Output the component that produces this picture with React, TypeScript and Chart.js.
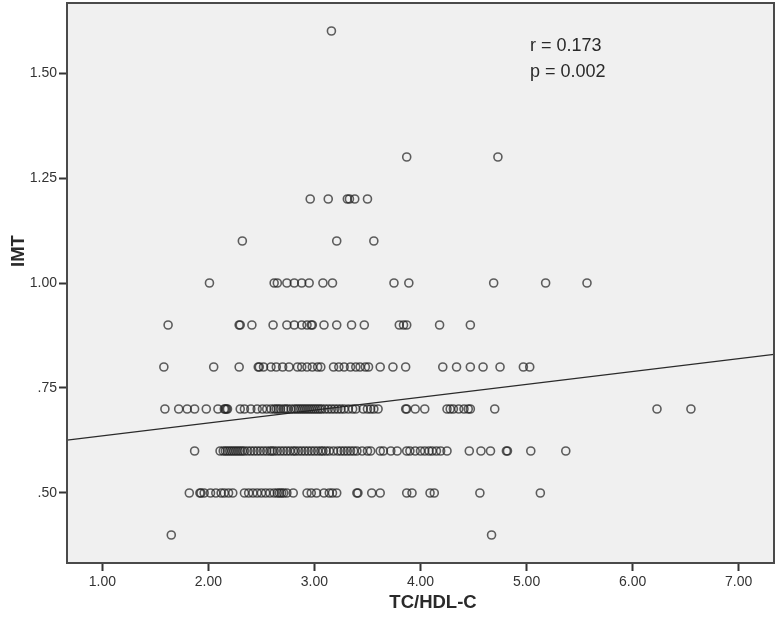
import React, { useEffect, useRef } from "react";
import { Chart, registerables } from "chart.js";

Chart.register(...registerables);

// IMT levels and the TC/HDL-C values observed at each level
const imtLevels = [0.4, 0.5, 0.6, 0.7, 0.8, 0.9, 1.0, 1.1, 1.2, 1.3, 1.6];

const tcAt040 = [1.65, 4.67];
const tcAt050 = [1.82, 1.92, 1.93, 1.96, 2.02, 2.07, 2.12, 2.15, 2.19, 2.23, 2.34, 2.38, 2.42, 2.46, 2.5, 2.54, 2.58, 2.62, 2.65, 2.67, 2.69, 2.71, 2.74, 2.8, 2.93, 2.97, 3.02, 3.09, 3.14, 3.17, 3.21, 3.4, 3.41, 3.54, 3.62, 3.87, 3.92, 4.09, 4.13, 4.56, 5.13];
const tcAt060 = [1.87, 2.11, 2.14, 2.16, 2.18, 2.2, 2.22, 2.24, 2.26, 2.28, 2.3, 2.32, 2.34, 2.37, 2.4, 2.43, 2.46, 2.49, 2.52, 2.55, 2.58, 2.6, 2.62, 2.65, 2.68, 2.71, 2.74, 2.77, 2.8, 2.82, 2.85, 2.88, 2.91, 2.94, 2.97, 3.0, 3.03, 3.06, 3.08, 3.11, 3.14, 3.18, 3.22, 3.25, 3.28, 3.31, 3.34, 3.37, 3.4, 3.45, 3.5, 3.53, 3.62, 3.65, 3.72, 3.78, 3.87, 3.9, 3.95, 4.0, 4.04, 4.08, 4.11, 4.15, 4.19, 4.25, 4.46, 4.57, 4.66, 4.81, 4.82, 5.04, 5.37];
const tcAt070 = [1.59, 1.72, 1.8, 1.87, 1.98, 2.09, 2.15, 2.16, 2.17, 2.18, 2.3, 2.34, 2.4, 2.46, 2.51, 2.55, 2.59, 2.62, 2.64, 2.66, 2.68, 2.71, 2.73, 2.75, 2.78, 2.81, 2.83, 2.85, 2.87, 2.89, 2.91, 2.93, 2.95, 2.97, 2.99, 3.01, 3.03, 3.05, 3.07, 3.1, 3.13, 3.16, 3.19, 3.22, 3.25, 3.28, 3.32, 3.36, 3.39, 3.46, 3.5, 3.53, 3.56, 3.6, 3.86, 3.87, 3.95, 4.04, 4.25, 4.28, 4.31, 4.36, 4.41, 4.45, 4.47, 4.7, 6.23, 6.55];
const tcAt080 = [1.58, 2.05, 2.29, 2.47, 2.48, 2.52, 2.59, 2.64, 2.7, 2.76, 2.84, 2.88, 2.93, 2.98, 3.03, 3.06, 3.18, 3.23, 3.28, 3.34, 3.39, 3.43, 3.48, 3.51, 3.62, 3.74, 3.86, 4.21, 4.34, 4.47, 4.59, 4.75, 4.97, 5.03];
const tcAt090 = [1.62, 2.29, 2.3, 2.41, 2.61, 2.74, 2.81, 2.88, 2.93, 2.97, 2.98, 3.09, 3.21, 3.35, 3.47, 3.8, 3.84, 3.87, 4.18, 4.47];
const tcAt100 = [2.01, 2.62, 2.65, 2.74, 2.81, 2.88, 2.95, 3.08, 3.17, 3.75, 3.89, 4.69, 5.18, 5.57];
const tcAt110 = [2.32, 3.21, 3.56];
const tcAt120 = [2.96, 3.13, 3.31, 3.33, 3.38, 3.5];
const tcAt130 = [3.87, 4.73];
const tcAt160 = [3.16];

const tcByLevel = [tcAt040, tcAt050, tcAt060, tcAt070, tcAt080, tcAt090, tcAt100, tcAt110, tcAt120, tcAt130, tcAt160];

// Fit line (linear regression) end points
const fitX = [0.6667, 7.3333];
const fitY = [0.626, 0.83];

const xTicks = [1, 2, 3, 4, 5, 6, 7];
const yTicks = [0.5, 0.75, 1.0, 1.25, 1.5];
const xRange = [0.6667, 7.3333];
const yRange = [0.3333, 1.6667];

const statLines = ["r = 0.173", "p = 0.002"];
const xTitle = "TC/HDL-C";
const yTitle = "IMT";

const FONT = "'Liberation Sans', Arial, sans-serif";

function fmt(v: number): string {
  const s = v.toFixed(2);
  return v < 1 ? s.slice(1) : s;
}

const framePlugin = {
  id: "spssFrame",
  beforeDraw(chart: any) {
    const { ctx, chartArea } = chart;
    ctx.save();
    ctx.fillStyle = "#ffffff";
    ctx.fillRect(0, 0, chart.width, chart.height);
    ctx.fillStyle = "#f0f0f0";
    ctx.fillRect(chartArea.left, chartArea.top, chartArea.right - chartArea.left, chartArea.bottom - chartArea.top);
    ctx.restore();
  },
  afterDraw(chart: any) {
    const { ctx, chartArea } = chart;
    ctx.save();
    ctx.strokeStyle = "#4a4a4a";
    ctx.lineWidth = 2;
    ctx.strokeRect(chartArea.left, chartArea.top, chartArea.right - chartArea.left, chartArea.bottom - chartArea.top);

    ctx.fillStyle = "#2a2a2a";
    ctx.font = `18px ${FONT}`;
    ctx.textAlign = "left";
    ctx.textBaseline = "alphabetic";
    ctx.fillText(statLines[0], 530, 51);
    ctx.fillText(statLines[1], 530, 77);

    ctx.font = `bold 18.5px ${FONT}`;
    ctx.textAlign = "center";
    ctx.textBaseline = "middle";
    ctx.fillText(xTitle, 433, 603);
    ctx.save();
    ctx.translate(19, 251);
    ctx.rotate(-Math.PI / 2);
    ctx.fillText(yTitle, 0, 0);
    ctx.restore();
    ctx.restore();
  },
};

export default function App() {
  const ref = useRef<HTMLCanvasElement | null>(null);

  useEffect(() => {
    if (!ref.current) return;
    const points: { x: number; y: number }[] = [];
    imtLevels.forEach((lvl, i) => {
      tcByLevel[i].forEach((x) => points.push({ x, y: lvl }));
    });

    const chart = new Chart(ref.current, {
      type: "scatter",
      data: {
        datasets: [
          {
            label: "Fit",
            data: fitX.map((x, i) => ({ x, y: fitY[i] })),
            showLine: true,
            borderColor: "#2a2a2a",
            borderWidth: 1.3,
            pointRadius: 0,
            order: 2,
          } as any,
          {
            label: "IMT",
            data: points,
            pointStyle: "circle",
            pointRadius: 4,
            pointBorderWidth: 1.6,
            pointBorderColor: "rgba(35,35,35,0.72)",
            pointBackgroundColor: "rgba(0,0,0,0)",
            order: 1,
          } as any,
        ],
      },
      options: {
        responsive: false,
        animation: false,
        layout: { autoPadding: false, padding: { left: 0, right: 4, top: 3, bottom: 0 } },
        plugins: {
          legend: { display: false },
          tooltip: { enabled: false },
        },
        scales: {
          x: {
            type: "linear",
            min: xRange[0],
            max: xRange[1],
            afterBuildTicks: (s: any) => {
              s.ticks = xTicks.map((v) => ({ value: v }));
            },
            afterFit: (s: any) => {
              s.height = 56;
              s.paddingLeft = 0;
              s.paddingRight = 0;
            },
            ticks: {
              callback: (v: any) => fmt(Number(v)),
              color: "#333333",
              font: { family: FONT, size: 14 },
              padding: 3,
              maxRotation: 0,
              autoSkip: false,
            },
            grid: {
              drawOnChartArea: false,
              drawTicks: true,
              tickLength: 8,
              tickColor: "#333333",
              tickWidth: 2,
            },
            border: { display: false },
          },
          y: {
            type: "linear",
            min: yRange[0],
            max: yRange[1],
            afterBuildTicks: (s: any) => {
              s.ticks = yTicks.map((v) => ({ value: v }));
            },
            afterFit: (s: any) => {
              s.width = 67;
              s.paddingTop = 0;
              s.paddingBottom = 0;
            },
            ticks: {
              callback: (v: any) => fmt(Number(v)),
              color: "#333333",
              font: { family: FONT, size: 14 },
              padding: 2,
              autoSkip: false,
            },
            grid: {
              drawOnChartArea: false,
              drawTicks: true,
              tickLength: 8,
              tickColor: "#333333",
              tickWidth: 2,
            },
            border: { display: false },
          },
        },
      } as any,
      plugins: [framePlugin],
    });
    return () => chart.destroy();
  }, []);

  return (
    <div style={{ position: "fixed", left: 0, top: 0, width: 778, height: 619, background: "#fff" }}>
      <canvas ref={ref} width={778} height={619} style={{ display: "block" }} />
    </div>
  );
}
